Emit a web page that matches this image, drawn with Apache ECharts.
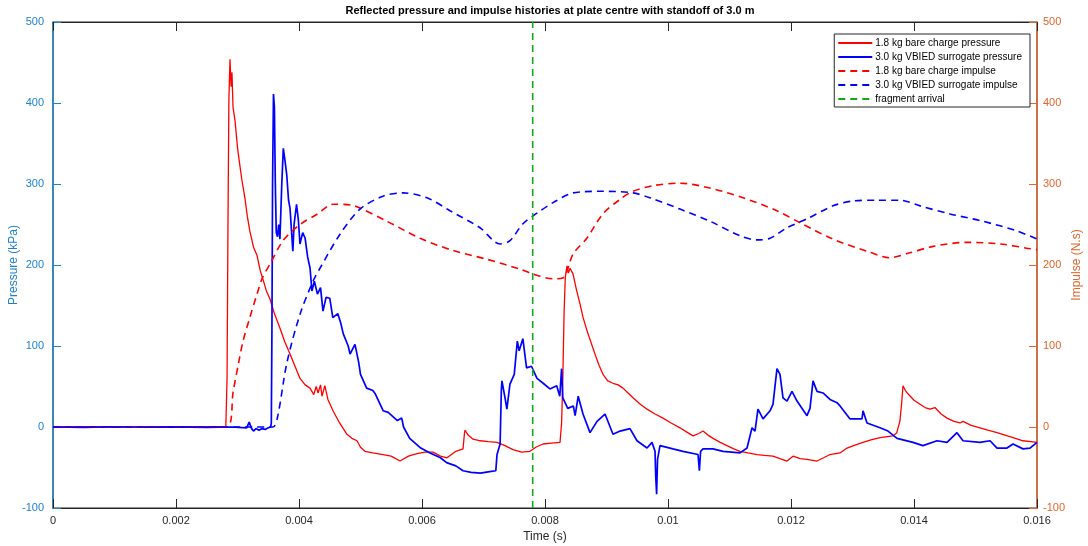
<!DOCTYPE html>
<html>
<head>
<meta charset="utf-8">
<title>Reflected pressure and impulse histories</title>
<script src="https://cdn.jsdelivr.net/npm/echarts@6/dist/echarts.min.js"></script>
<style>
  html, body { margin: 0; padding: 0; background: #fff; }
  #chart { width: 1088px; height: 546px; }
</style>
</head>
<body>
<div id="chart"></div>
<script>
// Time values are in milliseconds, converted to seconds for the axis.
// Pressure in kPa (left axis), impulse in N.s (right axis).

const seriesNames = [
  '1.8 kg bare charge pressure',
  '3.0 kg VBIED surrogate pressure',
  '1.8 kg bare charge impulse',
  '3.0 kg VBIED surrogate impulse',
  'fragment arrival'
];

const xTicks = [0, 0.002, 0.004, 0.006, 0.008, 0.01, 0.012, 0.014, 0.016];
const yTicks = [-100, 0, 100, 200, 300, 400, 500];

const fragmentArrivalMs = 7.8;

const barePressure = [
  [0,0],[0.5,0.5],[1.0,-0.3],[1.5,0.4],[2.0,0],[2.5,0.5],[2.81,0.3],
  [2.83,60],[2.845,250],[2.86,405],[2.878,454],[2.895,420],[2.91,438],[2.927,395],
  [2.96,378],[3.0,345],[3.04,322],[3.073,304],[3.12,283],[3.16,260],[3.2,242],
  [3.26,222],[3.317,212],[3.37,193],[3.415,182],[3.47,168],[3.528,158],[3.6,140],
  [3.691,122],[3.77,105],[3.854,90],[3.94,74],[4.016,60],[4.1,52],[4.179,48],
  [4.24,40],[4.28,50],[4.31,42],[4.35,52],[4.374,38],[4.42,51],[4.47,34],[4.553,20],
  [4.66,5],[4.78,-9],[4.86,-14],[4.943,-17],[5.0,-25],[5.073,-30],[5.2,-32],
  [5.366,-34],[5.5,-36],[5.642,-42],[5.78,-36],[5.919,-33],[6.05,-31],[6.179,-31],
  [6.3,-36],[6.407,-38],[6.55,-30],[6.667,-27],[6.69,-8],[6.70,-4],[6.75,-10],
  [6.829,-15],[6.95,-17],[7.08,-18],[7.22,-19],[7.35,-23],[7.48,-28],[7.62,-31],
  [7.756,-30],[7.85,-25],[7.967,-21],[8.1,-20],[8.244,-19],[8.27,5],[8.29,60],
  [8.31,140],[8.33,185],[8.358,199],[8.38,190],[8.407,196],[8.455,189],[8.51,170],
  [8.569,152],[8.62,135],[8.683,119],[8.75,104],[8.813,90],[8.88,76],[8.943,65],
  [9.02,57],[9.106,54],[9.19,52],[9.268,48],[9.35,42],[9.431,36],[9.55,28],
  [9.659,22],[9.79,16],[9.919,11],[10.05,5],[10.195,-1],[10.3,-6],[10.407,-11],
  [10.5,-8],[10.569,-5],[10.65,-10],[10.732,-14],[10.85,-19],[10.959,-23],
  [11.07,-27],[11.171,-30],[11.3,-32],[11.447,-34],[11.57,-35],[11.707,-36],
  [11.82,-39],[11.935,-42],[12.033,-36],[12.15,-39],[12.26,-40],[12.423,-42],
  [12.53,-38],[12.634,-34],[12.797,-32],[12.911,-26],[13.05,-22],[13.171,-19],
  [13.3,-16],[13.447,-13],[13.659,-11],[13.72,-7],[13.77,7],[13.80,30],[13.821,51],
  [13.86,45],[13.902,41],[14.0,33],[14.098,28],[14.18,24],[14.26,22],[14.341,24],
  [14.44,16],[14.537,11],[14.65,7],[14.748,5],[14.797,7],[14.93,2],[15.073,-1],
  [15.2,-4],[15.35,-7],[15.48,-10],[15.61,-13],[15.772,-17],[15.9,-18],[16.0,-19]
];

const vbiedPressure = [
  [0,0],[0.5,-0.5],[1.0,0.3],[1.5,-0.3],[2.0,0.2],[2.5,-0.4],[2.9,0],[3.15,-1],
  [3.19,6],[3.21,8],[3.23,-2],[3.26,-5],[3.3,-2],[3.35,-4],[3.4,-2],[3.45,-3],
  [3.5,-1],[3.54,0],[3.55,5],[3.56,120],[3.57,300],[3.585,411],[3.6,395],
  [3.615,300],[3.63,240],[3.65,235],[3.67,250],[3.69,232],[3.72,300],[3.745,344],
  [3.77,330],[3.8,312],[3.83,280],[3.854,270],[3.88,240],[3.90,217],[3.92,250],
  [3.96,275],[3.99,255],[4.016,226],[4.06,240],[4.1,233],[4.14,210],[4.18,196],
  [4.21,168],[4.25,180],[4.3,164],[4.35,172],[4.39,143],[4.44,160],[4.5,159],
  [4.55,135],[4.63,140],[4.68,128],[4.72,115],[4.8,100],[4.83,90],[4.91,102],
  [4.97,80],[5.0,65],[5.1,48],[5.2,45],[5.24,41],[5.37,20],[5.45,18],[5.48,16],
  [5.6,8],[5.67,11],[5.7,0],[5.8,-14],[5.98,-26],[6.13,-32],[6.3,-38],[6.4,-44],
  [6.55,-48],[6.667,-54],[6.8,-56],[6.95,-57],[7.1,-55],[7.2,-54],[7.22,-34],
  [7.27,-21],[7.29,45],[7.30,57],[7.35,36],[7.38,22],[7.43,53],[7.5,65],[7.55,106],
  [7.58,94],[7.64,109],[7.7,73],[7.78,75],[7.87,60],[7.97,54],[8.08,47],[8.19,51],
  [8.24,38],[8.27,72],[8.29,36],[8.37,23],[8.46,26],[8.49,14],[8.54,38],[8.618,16],
  [8.732,-7],[8.846,7],[8.976,16],[9.106,-9],[9.22,-5],[9.382,-2],[9.496,-17],
  [9.659,-26],[9.74,-19],[9.789,-30],[9.80,-60],[9.815,-83],[9.83,-40],[9.87,-23],
  [10.081,-27],[10.244,-30],[10.488,-34],[10.51,-54],[10.53,-30],[10.569,-27],
  [10.732,-27],[10.894,-30],[11.171,-32],[11.285,-26],[11.366,-1],[11.415,-5],
  [11.463,22],[11.545,10],[11.659,20],[11.707,28],[11.772,72],[11.821,65],
  [11.87,36],[11.935,32],[12.016,44],[12.098,32],[12.26,14],[12.309,23],[12.358,57],
  [12.423,44],[12.52,42],[12.634,34],[12.748,30],[12.797,26],[12.96,10],[13.154,10],
  [13.171,20],[13.236,5],[13.447,-1],[13.577,-5],[13.724,-14],[13.984,-19],
  [14.146,-23],[14.374,-17],[14.537,-19],[14.699,-7],[14.797,-17],[15.073,-19],
  [15.236,-17],[15.35,-26],[15.512,-26],[15.61,-21],[15.772,-27],[15.886,-26],[16.0,-19]
];

const bareImpulse = [
  [0,0],[2.83,0],[2.93,44],[3.02,80],[3.09,106],[3.2,135],[3.317,164],[3.41,185],
  [3.528,201],[3.74,230],[4.016,250],[4.3,263],[4.55,275],[4.85,274],[5.0,270],
  [5.43,254],[5.97,233],[6.5,218],[7.06,207],[7.59,195],[7.8,189],[8.13,183],
  [8.29,184],[8.46,214],[8.68,233],[8.94,263],[9.22,281],[9.43,291],[9.76,298],
  [10.2,301],[10.68,295],[11.22,283],[11.77,267],[12.15,252],[12.68,232],
  [13.24,217],[13.61,209],[13.93,215],[14.31,223],[14.86,228],[15.4,226],
  [15.9,220],[16.0,219]
];

const vbiedImpulse = [
  [0,0],[3.57,0],[3.65,12],[3.805,80],[4.016,139],[4.228,180],[4.341,196],
  [4.667,238],[4.992,269],[5.366,285],[5.691,289],[6.081,283],[6.455,267],
  [6.943,246],[7.268,226],[7.431,230],[7.642,251],[7.87,264],[8.13,277],
  [8.455,289],[8.943,291],[9.431,289],[9.707,283],[10.195,269],[10.683,254],
  [11.171,236],[11.447,231],[11.659,233],[11.935,246],[12.26,257],[12.683,273],
  [13.008,279],[13.398,280],[13.772,280],[14.098,273],[14.585,263],[15.122,254],
  [15.675,242],[16.0,232]
];

const toSeconds = pts => pts.map(([ms, v]) => [ms / 1000, v]);

const FONT = '"Liberation Sans", Arial, Helvetica, sans-serif';
const LEFT_COLOR = '#1f80cc';
const RIGHT_COLOR = '#e0662c';
const INK = '#262626';

const chart = echarts.init(document.getElementById('chart'), null, { renderer: 'canvas' });

const xMin = xTicks[0], xMax = xTicks[xTicks.length - 1];
const xStep = xTicks[1] - xTicks[0];
const yMin = yTicks[0], yMax = yTicks[yTicks.length - 1];
const yStep = yTicks[1] - yTicks[0];

const option = {
  backgroundColor: '#ffffff',
  animation: false,
  textStyle: { fontFamily: FONT },
  title: {
    text: 'Reflected pressure and impulse histories at plate centre with standoff of 3.0 m',
    left: 545,
    textAlign: 'center',
    top: 0,
    textStyle: { fontFamily: FONT, fontSize: 11, fontWeight: 'bold', color: '#000' }
  },
  legend: {
    data: seriesNames,
    orient: 'vertical',
    right: 58,
    top: 34,
    padding: [4, 8, 3, 3],
    itemGap: 4,
    itemWidth: 34,
    itemHeight: 10,
    backgroundColor: '#ffffff',
    borderColor: INK,
    borderWidth: 1,
    itemStyle: { opacity: 0 },
    textStyle: { fontFamily: FONT, fontSize: 10, color: '#000', padding: [0, 0, 0, -2] }
  },
  grid: {
    left: 53, right: 51, top: 22, bottom: 38,
    containLabel: false,
    outerBoundsMode: 'none',
    show: true, borderColor: INK, borderWidth: 1, backgroundColor: 'transparent'
  },
  xAxis: [
    {
      type: 'value', position: 'bottom',
      min: xMin, max: xMax, interval: xStep,
      name: 'Time (s)',
      nameLocation: 'middle',
      nameGap: 23,
      nameMoveOverlap: false,
      nameTextStyle: { fontFamily: FONT, fontSize: 12, color: INK },
      axisLine: { show: true, onZero: false, lineStyle: { color: INK, width: 1 } },
      axisTick: { show: true, inside: true, length: 9, lineStyle: { color: INK } },
      axisLabel: { fontFamily: FONT, fontSize: 11, color: INK, margin: 7,
                   formatter: v => String(parseFloat(v.toFixed(4))) },
      splitLine: { show: false }
    },
    {
      type: 'value', position: 'top',
      min: xMin, max: xMax, interval: xStep,
      axisLine: { show: true, onZero: false, lineStyle: { color: INK, width: 1 } },
      axisTick: { show: true, inside: true, length: 9, lineStyle: { color: INK } },
      axisLabel: { show: false },
      splitLine: { show: false }
    }
  ],
  yAxis: [
    {
      type: 'value', position: 'left',
      min: yMin, max: yMax, interval: yStep,
      name: 'Pressure (kPa)',
      nameLocation: 'middle',
      nameGap: 33,
      nameRotate: 90,
      nameMoveOverlap: false,
      nameTextStyle: { fontFamily: FONT, fontSize: 12, color: LEFT_COLOR },
      axisLine: { show: true, onZero: false, lineStyle: { color: LEFT_COLOR, width: 1.5 } },
      axisTick: { show: true, inside: true, length: 8, lineStyle: { color: LEFT_COLOR } },
      axisLabel: { fontFamily: FONT, fontSize: 11, color: LEFT_COLOR, margin: 9 },
      splitLine: { show: false }
    },
    {
      type: 'value', position: 'right',
      min: yMin, max: yMax, interval: yStep,
      name: 'Impulse (N.s)',
      nameLocation: 'middle',
      nameGap: 34,
      nameRotate: 90,
      nameMoveOverlap: false,
      nameTextStyle: { fontFamily: FONT, fontSize: 12, color: RIGHT_COLOR },
      axisLine: { show: true, onZero: false, lineStyle: { color: RIGHT_COLOR, width: 1.5 } },
      axisTick: { show: true, inside: true, length: 8, lineStyle: { color: RIGHT_COLOR } },
      axisLabel: { fontFamily: FONT, fontSize: 11, color: RIGHT_COLOR, margin: 6 },
      splitLine: { show: false }
    }
  ],
  series: [
    {
      name: seriesNames[0], type: 'line', xAxisIndex: 0, yAxisIndex: 0,
      data: toSeconds(barePressure), showSymbol: false, symbol: 'none',
      lineStyle: { color: '#ff0000', width: 1.3 }, itemStyle: { color: '#ff0000' }, z: 3
    },
    {
      name: seriesNames[1], type: 'line', xAxisIndex: 0, yAxisIndex: 0,
      data: toSeconds(vbiedPressure), showSymbol: false, symbol: 'none',
      lineStyle: { color: '#0000ff', width: 1.7 }, itemStyle: { color: '#0000ff' }, z: 4
    },
    {
      name: seriesNames[2], type: 'line', xAxisIndex: 0, yAxisIndex: 1,
      data: toSeconds(bareImpulse), showSymbol: false, symbol: 'none', smooth: 0.3,
      lineStyle: { color: '#ff0000', width: 1.6, type: [7, 5] }, itemStyle: { color: '#ff0000' }, z: 5
    },
    {
      name: seriesNames[3], type: 'line', xAxisIndex: 0, yAxisIndex: 1,
      data: toSeconds(vbiedImpulse), showSymbol: false, symbol: 'none', smooth: 0.3,
      lineStyle: { color: '#0000ff', width: 1.6, type: [7, 5] }, itemStyle: { color: '#0000ff' }, z: 5
    },
    {
      name: seriesNames[4], type: 'line', xAxisIndex: 0, yAxisIndex: 0,
      data: [[fragmentArrivalMs / 1000, yMin], [fragmentArrivalMs / 1000, yMax]],
      showSymbol: false, symbol: 'none',
      lineStyle: { color: '#17a817', width: 1.6, type: [7, 5] }, itemStyle: { color: '#17a817' }, z: 6
    }
  ]
};

chart.setOption(option);
</script>
</body>
</html>
